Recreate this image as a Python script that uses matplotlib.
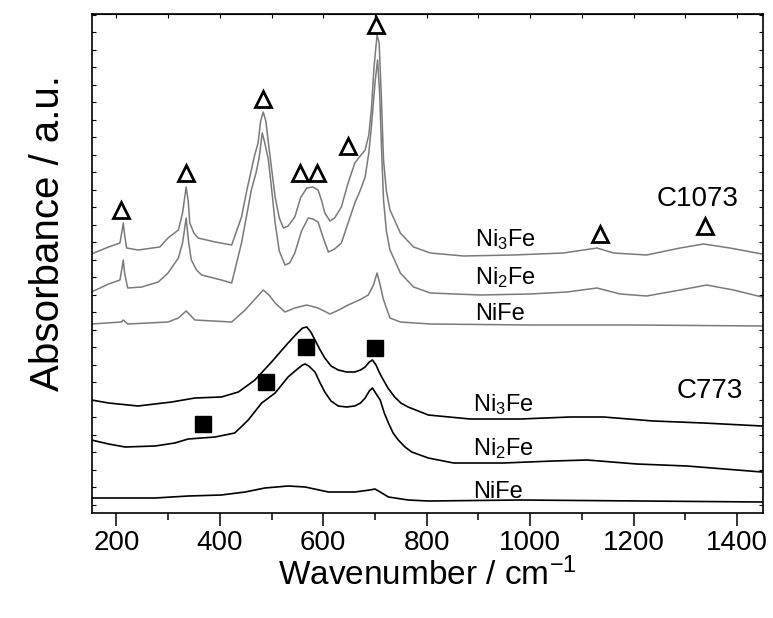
import numpy as np
import matplotlib
matplotlib.use('Agg')
import matplotlib.pyplot as plt
from matplotlib.ticker import MultipleLocator, FixedLocator

# spectra (x = wavenumber, y = absorbance a.u.)
c1073_ni3fe_x = [152, 185, 207, 211, 213.5, 216, 220, 242, 284, 300, 320, 328, 335, 339, 342, 350, 358, 391, 423, 442,
                 452, 461, 467, 474, 479, 484, 489, 494, 500, 507, 515, 523, 532, 545, 556, 568, 580, 590, 597, 603,
                 613, 622, 635, 648, 661, 670, 681, 688, 693, 698, 704, 708, 712, 716.5, 722, 729, 749, 774.5, 807,
                 871, 968, 1064, 1129, 1161, 1225, 1290, 1335, 1386, 1448]
c1073_ni3fe_y = [259, 266, 270, 282, 290, 278, 265, 263, 266, 275, 283, 300, 326, 312, 290, 280, 275, 271, 268, 296,
                 322, 343, 357, 370, 392, 401, 392, 370, 345, 316, 295, 285, 287, 296, 315, 325, 326, 323, 312, 300,
                 292, 295, 306, 330, 350, 356, 363, 378, 403, 445, 478, 470, 420, 353, 322, 303, 280, 266, 260,
                 257, 258, 260, 265, 260, 258, 265, 269, 265, 259]

c1073_ni2fe_x = [152, 185, 207, 211, 213.5, 216, 222, 249, 281, 300, 320, 328, 335, 340, 345, 355, 365, 403, 423, 442,
                 461, 470, 476, 482, 487, 494, 500, 507, 515, 526, 535, 545, 558, 571, 580, 590, 600, 610, 622, 635,
                 648, 661, 671, 681, 688, 693, 700, 705, 709, 713, 716.5, 722, 729, 749, 774.5, 807, 903, 1000,
                 1071, 1129, 1174, 1225, 1290, 1341, 1393, 1448]
c1073_ni2fe_y = [221, 229, 233, 245, 253, 240, 225, 226, 231, 240, 255, 270, 295, 270, 253, 243, 238, 233, 230, 270,
                 323, 340, 355, 380, 370, 353, 325, 290, 262, 248, 250, 260, 282, 295, 294, 291, 275, 261, 264, 270,
                 290, 310, 322, 336, 360, 386, 430, 453, 420, 360, 313, 282, 263, 240, 226, 220, 218, 219,
                 221, 225, 219, 217, 223, 228, 223, 216]

c1073_nife_x = [152, 210, 213.5, 222, 300, 320, 335, 352, 423, 449, 470, 484, 495, 507, 526, 545, 568, 590, 613, 630,
                648, 670, 687, 697, 704, 710, 716, 729, 749, 807, 1000, 1200, 1448]
c1073_nife_y = [189, 191, 193, 189, 191, 195, 202, 193, 191, 203, 215, 223, 218, 210, 201, 205, 208, 205, 199, 203,
                208, 213, 218, 228, 240, 228, 214, 195, 191, 189, 188, 188, 187]

c773_ni3fe_x = [152, 185, 242, 307, 352, 403, 436, 468, 500, 532, 550, 560, 568, 576, 584, 594, 603, 615, 629, 645,
                661, 672, 681, 689, 695, 702, 708, 713, 725, 738, 750, 764, 803, 884, 981, 1077, 1142, 1238,
                1335, 1448]
c773_ni3fe_y = [113, 110, 107, 111, 115, 116, 121, 133, 151, 170, 180, 185, 186, 181, 173, 163, 155, 147, 143, 141,
                141, 143, 146, 151, 153, 148, 141, 136, 125, 116, 110, 106, 98, 94, 94, 96, 96, 92,
                90, 87]

c773_ni2fe_x = [152, 185, 217, 275, 313, 339, 391, 429, 455, 481, 507, 532, 550, 560, 565, 572, 584, 594, 603, 615,
                629, 645, 661, 672, 681, 689, 695, 700, 705, 710, 718, 726, 735, 745, 758, 771, 803, 852, 948,
                1045, 1110, 1206, 1303, 1448]
c773_ni2fe_y = [73, 69, 66, 67, 70, 74, 76, 80, 93, 110, 120, 136, 144, 148, 149, 147, 141, 130, 121, 112,
                107, 106, 107, 110, 115, 122, 125, 121, 117, 113, 100, 90, 80, 73, 66, 61, 55, 50, 50,
                52, 53, 49, 47, 41]

c773_nife_x = [152, 275, 339, 403, 449, 487, 532, 565, 610, 661, 690, 700, 710, 726, 764, 803, 981, 1448]
c773_nife_y = [15, 15, 17, 18, 21, 25, 27, 26, 21, 21, 23, 24, 21, 16, 13, 12, 13, 11]

# peak markers
tri_x = [209, 335, 484, 556, 587, 648, 701, 1135, 1338]
tri_y = [303, 340, 414, 340, 340, 367, 488, 279, 287]
sq_x = [368, 490, 567, 700]
sq_y = [89, 131, 166, 165]

# labels: (text, x, y baseline)
labels = [('Ni$_3$Fe', 894, 267), ('Ni$_2$Fe', 894, 229), ('NiFe', 894, 193),
          ('Ni$_3$Fe', 890, 102), ('Ni$_2$Fe', 890, 58), ('NiFe', 890, 15)]
group_labels = [('C1073', 1245, 307), ('C773', 1283, 115)]

plt.rcParams['font.family'] = ['Liberation Sans', 'DejaVu Sans']
plt.rcParams['mathtext.fontset'] = 'custom'
plt.rcParams['mathtext.rm'] = 'Liberation Sans'
plt.rcParams['mathtext.it'] = 'Liberation Sans'

fig = plt.figure(figsize=(7.73, 6.18), dpi=100)
ax = fig.add_axes([92 / 773, 1 - 513 / 618, 671 / 773, 499 / 618])

gray = '#7a7a7a'
ax.plot(c1073_ni3fe_x, c1073_ni3fe_y, color=gray, lw=1.1)
ax.plot(c1073_ni2fe_x, c1073_ni2fe_y, color=gray, lw=1.1)
ax.plot(c1073_nife_x, c1073_nife_y, color=gray, lw=1.1)
ax.plot(c773_ni3fe_x, c773_ni3fe_y, color='black', lw=1.2)
ax.plot(c773_ni2fe_x, c773_ni2fe_y, color='black', lw=1.2)
ax.plot(c773_nife_x, c773_nife_y, color='black', lw=1.2)

ax.plot(tri_x, tri_y, ls='none', marker='^', ms=12, mfc='white', mec='black', mew=2)
ax.plot(sq_x, sq_y, ls='none', marker='s', ms=11.5, mfc='black', mec='black')

for txt, x, y in labels:
    ax.text(x, y, txt, fontsize=17, va='baseline', ha='left')
for txt, x, y in group_labels:
    ax.text(x, y, txt, fontsize=20, va='baseline', ha='left')

ax.set_xlim(153, 1450)
ax.set_ylim(0, 499)
ax.xaxis.set_major_locator(MultipleLocator(200))
ax.xaxis.set_minor_locator(MultipleLocator(100))
ax.yaxis.set_major_locator(FixedLocator(np.arange(8.5, 499, 35)))
ax.yaxis.set_minor_locator(FixedLocator(np.arange(26, 499, 35)))
ax.tick_params(axis='x', which='major', direction='out', length=9, width=1.1, labelsize=20)
ax.tick_params(axis='x', which='minor', direction='out', length=5, width=1.1)
ax.tick_params(axis='y', which='both', direction='in', length=3, width=0.8, left=True, right=True, labelleft=False)
sec = ax.secondary_xaxis('top')
sec.set_xticks(np.arange(200, 1450, 100))
sec.tick_params(direction='in', length=3, width=0.8, labeltop=False)
for s in ax.spines.values():
    s.set_linewidth(1.2)

ax.set_xlabel('Wavenumber / cm$^{\\mathregular{-1}}$', fontsize=24, labelpad=1)
ax.set_ylabel('Absorbance / a.u.', fontsize=29)
ax.yaxis.set_label_coords(-0.038, 0.56)

fig.savefig('out.png', dpi=100)
